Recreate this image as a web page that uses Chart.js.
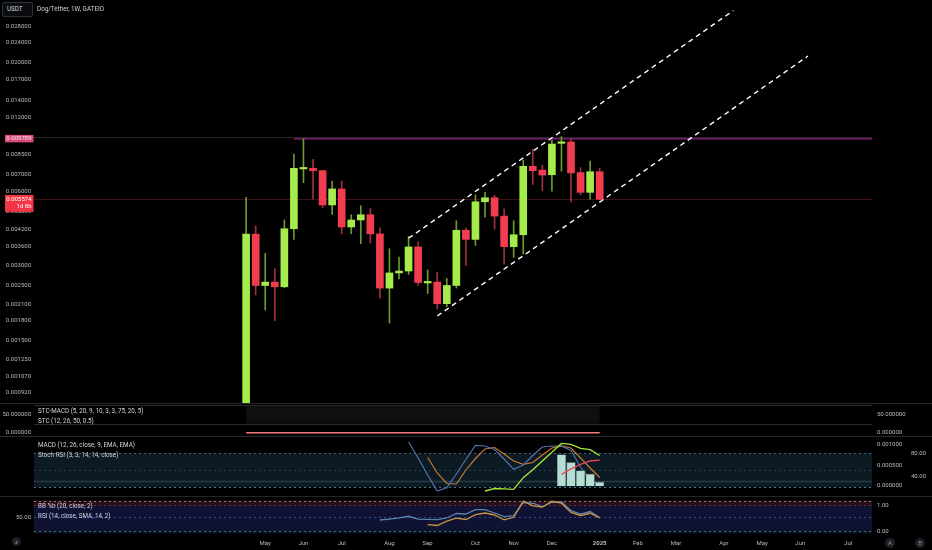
<!DOCTYPE html>
<html><head><meta charset="utf-8">
<script src="https://cdn.jsdelivr.net/npm/chart.js@4.4.1/dist/chart.umd.min.js"></script>
<style>
html,body{margin:0;padding:0;background:#000;width:932px;height:550px;overflow:hidden;font-family:Roboto,"Open Sans",sans-serif;}
canvas{position:absolute;left:0;}
.sep{position:absolute;left:0;width:932px;height:1px;background:#2a2a2a;}
.txt{position:absolute;color:#d1d4dc;font-size:6.3px;white-space:nowrap;line-height:1;}
.btn{position:absolute;border-radius:50%;background:#1e2029;color:#9598a1;font-size:6px;text-align:center;}
</style></head><body>
<canvas id="cMain" width="932" height="403" style="top:0"></canvas>
<canvas id="cStc" width="932" height="33" style="top:403px"></canvas>
<canvas id="cMacd" width="932" height="60" style="top:436px"></canvas>
<canvas id="cRsi" width="932" height="54" style="top:496px"></canvas>
<div class="sep" style="top:403px"></div>
<div class="sep" style="top:436px"></div>
<div class="sep" style="top:496px;height:1px;background:#262626"></div>
<div style="position:absolute;left:2px;top:2px;width:29px;height:13px;border:1px solid #2e313b;border-radius:2px;background:#0b0c10;color:#d1d4dc;font-size:6.3px;line-height:13px;padding-left:4px;box-sizing:content-box;width:25px;">USDT</div>
<div class="txt" style="left:37px;top:6px;">Dog/Tether, 1W, GATEIO</div>
<div class="txt" style="left:38px;top:408px;">STC-MACD (5, 20, 9, 10, 3, 3, 75, 20, 5)</div>
<div class="txt" style="left:38px;top:418px;">STC (12, 26, 50, 0.5)</div>
<div class="txt" style="left:38px;top:442px;">MACD (12, 26, close, 9, EMA, EMA)</div>
<div class="txt" style="left:38px;top:452px;">Stoch RSI (3, 3, 14, 14, close)</div>
<div class="txt" style="left:38px;top:503px;">BB %b (20, close, 2)</div>
<div class="txt" style="left:38px;top:513px;">RSI (14, close, SMA, 14, 2)</div>
<div class="btn" style="left:12px;top:537px;width:9px;height:9px;line-height:9px;">z</div>
<div class="btn" style="left:885px;top:538px;width:10px;height:10px;line-height:10px;">A</div>
<div class="btn" style="left:915px;top:538px;width:10px;height:10px;line-height:10px;">B</div>
<script>
// ---------- data ----------
const weeks = ['2024-04-22','2024-04-29','2024-05-06','2024-05-13','2024-05-20','2024-05-27','2024-06-03','2024-06-10','2024-06-17','2024-06-24','2024-07-01','2024-07-08','2024-07-15','2024-07-22','2024-07-29','2024-08-05','2024-08-12','2024-08-19','2024-08-26','2024-09-02','2024-09-09','2024-09-16','2024-09-23','2024-09-30','2024-10-07','2024-10-14','2024-10-21','2024-10-28','2024-11-04','2024-11-11','2024-11-18','2024-11-25','2024-12-02','2024-12-09','2024-12-16','2024-12-23','2024-12-30','2025-01-06'];
const opens  = [0.0006,0.00403,0.00250,0.00258,0.00247,0.00424,0.00740,0.00744,0.00728,0.00529,0.00614,0.00431,0.00460,0.00483,0.00404,0.00244,0.00281,0.00286,0.00358,0.00256,0.00258,0.00211,0.00250,0.00418,0.00384,0.00545,0.00566,0.00477,0.00359,0.00401,0.00758,0.00732,0.00701,0.00939,0.00951,0.00715,0.00595,0.00721];
const highs  = [0.00568,0.00436,0.00337,0.00292,0.00460,0.00850,0.00979,0.00809,0.00730,0.00661,0.00661,0.00483,0.00525,0.00511,0.00428,0.00352,0.00326,0.00395,0.00375,0.00289,0.00283,0.00267,0.00457,0.00427,0.00581,0.00595,0.00579,0.00510,0.00457,0.00804,0.00888,0.00765,0.00969,0.00999,0.00976,0.00749,0.00797,0.00744];
const lows   = [0.0006,0.00229,0.00199,0.00180,0.00245,0.00384,0.00651,0.00558,0.00516,0.00485,0.00404,0.00405,0.00369,0.00371,0.00222,0.00176,0.00266,0.00277,0.00250,0.00232,0.00201,0.00205,0.00244,0.00301,0.00363,0.00472,0.00422,0.00305,0.00325,0.00335,0.00641,0.00604,0.00601,0.00724,0.00544,0.00582,0.00558,0.00555];
const closes = [0.00403,0.00250,0.00258,0.00247,0.00424,0.00744,0.00745,0.00728,0.00529,0.00614,0.00431,0.00460,0.00483,0.00404,0.00244,0.00281,0.00286,0.00358,0.00257,0.00259,0.00211,0.00250,0.00418,0.00384,0.00545,0.00566,0.00477,0.00359,0.00401,0.00758,0.00728,0.00699,0.00933,0.00951,0.00713,0.00595,0.00721,0.005574];

const priceTicks = [0.028,0.024,0.02,0.017,0.014,0.012,0.0085,0.007,0.006,0.005,0.0042,0.0036,0.003,0.0025,0.0021,0.0018,0.0015,0.00125,0.00107,0.00092];
const monthTickIdx = [2,6,10,15,19,24,28,32,37,41,45,50,54,58,63];
const monthLabels  = ['May','Jun','Jul','Aug','Sep','Oct','Nov','Dec','2025','Feb','Mar','Apr','May','Jun','Jul'];

const rayLevel = 0.009789, rayStart = 5;
const highLevel = 0.00999;
const lastPrice = 0.005574, countdown = '1d 8h';
const channelUpper = [[17,0.003879],[51,0.03235]];
const channelLower = [[20,0.001881],[58.8,0.02118]];

const stcVals = [0,0,0,0,0,0,0,0,0,0,0,0,0,0,0,0,0,0,0,0,0,0,0,0,0,0,0,0,0,0,0,0,0,0,0,0,0,0];
const stcLevels = [75,25];

const stochKStart = 17;
const stochK = [99.9,71.7,41.8,13.6,19.4,43.5,69.1,94.1,92.9,86.7,70,51.8,59.4,76.1,91.1,92.9,92.9,84.9,55.9,33,22.4];
const stochDStart = 19;
const stochD = [72.6,45.3,26.8,25.9,50.6,70.8,87.6,90.2,78.8,66.4,60.6,63.8,77,89.3,92.9,89.3,71.7,54.1,37.4];
const macdStart = 25;
const macdLine = [-0.00012,-0.00006,-0.000067,-0.00008,0.0002,0.00039,0.0006,0.00081,0.00102,0.001,0.0009,0.00087,0.00073];
const signalStart = 33;
const signalLine = [0.00028,0.00041,0.00052,0.0006,0.00062];
const histStart = 33;
const hist = [0.000755,0.000571,0.000373,0.000293,0.0001];

const rsiStart = 14;
const rsi = [46.3,47.5,48.8,50.9,47.5,47.2,46.9,48.8,54.3,53.7,59,59,54.9,50.4,51.8,67.8,66.9,62.6,68.1,68.7,57.7,53.4,56.7,49.3];
const bbStart = 19;
const bbPctB = [0.256,0.225,0.391,0.508,0.457,0.643,0.709,0.632,0.446,0.543,1.174,0.984,0.934,1.163,1.089,0.729,0.605,0.698,0.516];

// ---------- helpers ----------
const X_MIN = -22.2, X_MAX = 65.5;
const GREEN = '#a6eb4c', RED = '#f23c50', GREEN_W = '#6a9a30', RED_W = '#a0303c';
const FONT = {family:'Roboto, "Open Sans", sans-serif', size:6};
const TICK_COLOR = '#b8bbc4';
const series = (start, arr) => arr.map((v,i)=>({x:start+i, y:v}));
const fixW = w => s => { s.width = w; s.paddingTop = 0; s.paddingBottom = 0; s.paddingLeft = 0; s.paddingRight = 0; };
const fixH = h => s => { s.height = h; s.paddingTop = 0; s.paddingBottom = 0; s.paddingLeft = 0; s.paddingRight = 0; };
const setTicks = list => s => { s.ticks = list.map(v=>({value:v})); };
function xAxis(display){
  return {type:'linear', min:X_MIN, max:X_MAX, offset:false, display,
    grid:{display:false, drawTicks:false}, border:{display:false},
    ticks:{display:false}};
}
function yAxis(pos, min, max, width, ticks, fmt, pad, extra){
  return Object.assign({type:'linear', position:pos, min, max, offset:false,
    grid:{display:false, drawTicks:false}, border:{display:false},
    ticks:{color:TICK_COLOR, font:FONT, padding:pad, autoSkip:false, callback:v=>Number(v).toFixed(fmt)},
    afterBuildTicks:setTicks(ticks), afterFit:fixW(width)}, extra||{});
}
function levels(cfg){
  return {id:'levels', beforeDatasetsDraw(chart){
    const ctx = chart.ctx, a = chart.chartArea, xs = chart.scales.x;
    ctx.save();
    (cfg.bands||[]).forEach(b=>{
      const y1 = chart.scales[b.s1].getPixelForValue(b.v1), y2 = chart.scales[b.s2].getPixelForValue(b.v2);
      const x1 = b.x1!=null ? xs.getPixelForValue(b.x1) : a.left;
      const x2 = b.x2!=null ? xs.getPixelForValue(b.x2) : a.right;
      ctx.fillStyle = b.color; ctx.fillRect(x1, Math.min(y1,y2), x2-x1, Math.abs(y2-y1));
    });
    (cfg.lines||[]).forEach(l=>{
      const y = Math.round(chart.scales[l.s].getPixelForValue(l.v)) + 0.5;
      const x1 = l.x1!=null ? xs.getPixelForValue(l.x1) : a.left;
      ctx.strokeStyle = l.color; ctx.lineWidth = l.w||1; ctx.setLineDash(l.dash||[]);
      ctx.beginPath(); ctx.moveTo(x1,y); ctx.lineTo(a.right,y); ctx.stroke();
    });
    ctx.restore();
  }};
}
const base = {responsive:false, animation:false, devicePixelRatio:1, events:[],
  plugins:{legend:{display:false}, tooltip:{enabled:false}}};
const lineDs = (data, color, w, yAxisID, order, dash) => ({type:'line', data, borderColor:color, borderWidth:w,
  pointRadius:0, tension:0, fill:false, yAxisID, order, borderDash:dash||[]});

// ---------- main price pane ----------
const isUp = i => closes[i] >= opens[i];
const priceTags = {id:'priceTags', afterDraw(chart){
  const ctx = chart.ctx, y = chart.scales.y;
  ctx.save();
  ctx.font = '6px Roboto, "Open Sans", sans-serif';
  ctx.textBaseline = 'middle'; ctx.textAlign = 'right';
  let py = y.getPixelForValue(rayLevel);
  ctx.fillStyle = '#d8497c'; ctx.fillRect(5, py-4, 28.5, 7.5);
  ctx.fillStyle = '#fbe7ee'; ctx.fillText(rayLevel.toFixed(6), 31.5, py);
  py = y.getPixelForValue(lastPrice);
  ctx.fillStyle = '#f23645'; ctx.fillRect(5, py-4.5, 28.5, 17);
  ctx.fillStyle = '#ffffff'; ctx.fillText(lastPrice.toFixed(6), 31.5, py);
  ctx.fillText(countdown, 31.5, py+7.5);
  ctx.restore();
}};
new Chart(document.getElementById('cMain'), {
  type:'bar',
  data:{datasets:[
    {type:'bar', data:weeks.map((w,i)=>({x:i, y:[lows[i], highs[i]]})), barThickness:1, grouped:false,
      backgroundColor:weeks.map((w,i)=>isUp(i)?GREEN_W:RED_W), borderWidth:0, order:5},
    {type:'bar', data:weeks.map((w,i)=>({x:i, y:[opens[i], closes[i]]})), barThickness:7, grouped:false, minBarLength:1.5,
      backgroundColor:weeks.map((w,i)=>isUp(i)?GREEN:RED), borderWidth:0, order:4},
    lineDs([{x:rayStart,y:rayLevel},{x:X_MAX,y:rayLevel}], '#8e2a80', 1.3, 'y', 8),
    lineDs(channelUpper.map(p=>({x:p[0],y:p[1]})), '#ffffff', 1.4, 'y', 1, [5,4]),
    lineDs(channelLower.map(p=>({x:p[0],y:p[1]})), '#ffffff', 1.4, 'y', 1, [5,4])
  ]},
  options:Object.assign({}, base, {
    layout:{padding:{left:0, right:60, top:0, bottom:0}},
    scales:{
      x:xAxis(false),
      y:{type:'logarithmic', position:'left', min:0.000837, max:0.03567,
        grid:{display:false, drawTicks:false}, border:{display:false},
        ticks:{color:TICK_COLOR, font:FONT, padding:3, autoSkip:false, callback:v=>Number(v).toFixed(6)},
        afterBuildTicks:setTicks(priceTicks), afterFit:fixW(34)}
    }
  }),
  plugins:[levels({lines:[
    {s:'y', v:highLevel, color:'#2c2228'},
    {s:'y', v:lastPrice, color:'#3e1218'}
  ]}), priceTags]
});

// ---------- STC pane ----------
new Chart(document.getElementById('cStc'), {
  type:'line',
  data:{datasets:[
    lineDs(series(0, stcVals), '#f27a7e', 1.5, 'yl', 1)
  ]},
  options:Object.assign({}, base, {
    layout:{padding:0},
    scales:{
      x:xAxis(false),
      yl:yAxis('left', -9.07, 81.6, 34, [0,50], 6, 3),
      yr:yAxis('right', -9.07, 81.6, 60, [0,50], 6, 5)
    }
  }),
  plugins:[levels({
    bands:[{s1:'yl', v1:stcLevels[0], s2:'yl', v2:stcLevels[1], x1:0, x2:stcVals.length-1, color:'#0f0f0f'}],
    lines:[{s:'yl', v:stcLevels[0], color:'#2b2b2b'}, {s:'yl', v:stcLevels[1], color:'#2b2b2b'}]
  })]
});

// ---------- MACD / Stoch RSI pane ----------
new Chart(document.getElementById('cMacd'), {
  type:'bar',
  data:{datasets:[
    lineDs(series(stochKStart, stochK), '#5272ad', 1.2, 'stoch', 3),
    lineDs(series(stochDStart, stochD), '#c47a32', 1.2, 'stoch', 3),
    {type:'bar', data:series(histStart, hist), yAxisID:'macd', backgroundColor:'#b4ded3', borderColor:'#8f9c9a', borderWidth:0.6,
      barPercentage:0.96, categoryPercentage:1, order:2},
    lineDs(series(macdStart, macdLine), '#a5e83a', 1.3, 'macd', 1),
    lineDs(series(signalStart, signalLine), '#e8485a', 1.3, 'macd', 1)
  ]},
  options:Object.assign({}, base, {
    layout:{padding:{left:34, right:0, top:0, bottom:0}},
    scales:{
      x:xAxis(false),
      macd:yAxis('right', -0.00023981, 0.001199, 36, [0,0.0005,0.001], 6, 5, {weight:0}),
      stoch:yAxis('right', 4.76, 110.5, 24, [40,80], 2, 3, {weight:1})
    }
  }),
  plugins:[levels({
    bands:[{s1:'stoch', v1:80, s2:'stoch', v2:20, color:'#0c1b23'}],
    lines:[
      {s:'stoch', v:80, color:'#4a6272', dash:[2,3]},
      {s:'stoch', v:50, color:'#2c3c47', dash:[2,3]},
      {s:'stoch', v:31, color:'#2a3c47', w:1.5},
      {s:'stoch', v:20, color:'#5a7484', dash:[2,3]}
    ]
  })]
});

// ---------- BB %b / RSI pane + time axis ----------
new Chart(document.getElementById('cRsi'), {
  type:'line',
  data:{datasets:[
    lineDs(series(rsiStart, rsi), '#5a84ad', 1.3, 'rsi', 2),
    lineDs(series(bbStart, bbPctB), '#c8963c', 1.3, 'bb', 1)
  ]},
  options:Object.assign({}, base, {
    layout:{padding:0},
    scales:{
      x:{type:'linear', min:X_MIN, max:X_MAX, offset:false, position:'bottom',
        grid:{display:false, drawTicks:false}, border:{display:false},
        ticks:{color:TICK_COLOR, padding:3, autoSkip:false, maxRotation:0,
          font:c=>({family:FONT.family, size:6, weight:(c.tick && c.tick.value===37)?'bold':'normal'}),
          callback:(v,i)=>monthLabels[i]},
        afterBuildTicks:setTicks(monthTickIdx), afterFit:fixH(13)},
      rsi:yAxis('left', 25.46, 75.77, 34, [50], 2, 3),
      bb:yAxis('right', -0.221, 1.368, 60, [0,1], 2, 5)
    }
  }),
  plugins:[levels({
    bands:[
      {s1:'rsi', v1:70, s2:'rsi', v2:30, color:'#101234'},
      {s1:'rsi', v1:70, s2:'bb', v2:1, color:'#280e1e'}
    ],
    lines:[
      {s:'rsi', v:70, color:'#a08040', dash:[2,3]},
      {s:'bb', v:1, color:'#7a2a3a', dash:[2,3]},
      {s:'rsi', v:50, color:'#34479a', dash:[2,3]},
      {s:'bb', v:0, color:'#3f7a3a', dash:[2,3]}
    ]
  })]
});
</script>
</body></html>
